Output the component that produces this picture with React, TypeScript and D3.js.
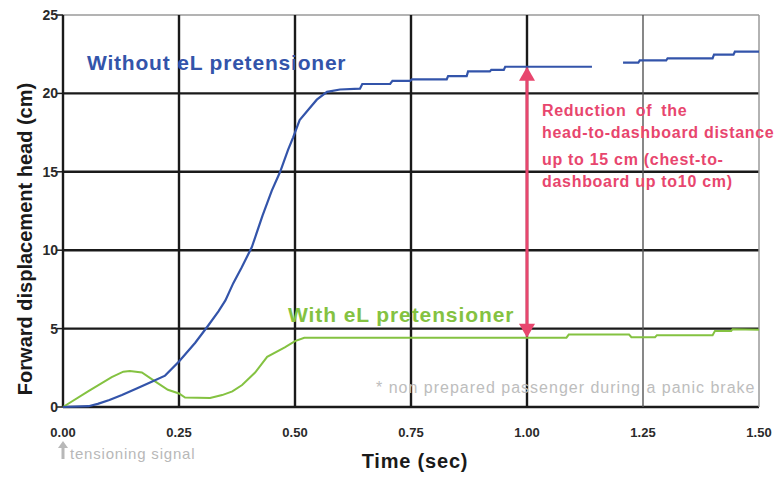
import * as d3 from "d3";

// Time axis (sec) and displacement (cm)
const xTicks = [0, 0.25, 0.5, 0.75, 1.0, 1.25, 1.5];
const yTicks = [0, 5, 10, 15, 20, 25];

// Without eL pretensioner (blue) — NaN marks the gap in the trace
const blueTime = [
  0, 0.055, 0.075, 0.1, 0.127, 0.16, 0.19, 0.22, 0.25, 0.285, 0.313, 0.335, 0.35, 0.367,
  0.385, 0.407, 0.43, 0.45, 0.468, 0.485, 0.496, 0.51, 0.53, 0.547, 0.569, 0.597, 0.64,
  0.645, 0.705, 0.71, 0.748, 0.752, 0.827, 0.83, 0.87, 0.873, 0.92, 0.923, 0.95, 0.953,
  1.14, 1.17, 1.207, 1.24, 1.243, 1.3, 1.303, 1.4, 1.403, 1.445, 1.448, 1.5,
];
const blueValue = [
  0, 0.05, 0.2, 0.45, 0.77, 1.2, 1.6, 2.0, 2.9, 4.1, 5.2, 6.1, 6.8, 7.9,
  8.9, 10.2, 12.2, 13.8, 15.0, 16.4, 17.2, 18.3, 19.0, 19.6, 20.1, 20.25, 20.3,
  20.6, 20.6, 20.8, 20.8, 20.9, 20.9, 21.1, 21.1, 21.4, 21.4, 21.5, 21.5, 21.7,
  21.7, NaN, 21.96, 21.96, 22.1, 22.1, 22.24, 22.24, 22.47, 22.47, 22.66, 22.66,
];

// With eL pretensioner (green)
const greenTime = [
  0, 0.054, 0.105, 0.13, 0.144, 0.17, 0.2, 0.226, 0.25, 0.263, 0.317, 0.343, 0.365, 0.386,
  0.414, 0.44, 0.478, 0.5, 0.52, 1.085, 1.09, 1.22, 1.225, 1.276, 1.28, 1.4, 1.405, 1.44,
  1.443, 1.5,
];
const greenValue = [
  0, 1.0, 1.9, 2.25, 2.3, 2.2, 1.6, 1.1, 0.86, 0.6, 0.57, 0.76, 1.0, 1.4,
  2.2, 3.2, 3.8, 4.2, 4.42, 4.42, 4.62, 4.62, 4.45, 4.45, 4.58, 4.58, 4.84, 4.84,
  4.96, 4.92,
];

const reductionAt = 1.0;
const reductionTop = 21.7;
const reductionBottom = 4.42;

const W = 781;
const H = 477;
const M = { top: 15, right: 22, bottom: 70, left: 63 };

const BLUE = "#3354aa";
const GREEN = "#84c241";
const RED = "#e8466e";
const FONT = "'Liberation Sans', Arial, sans-serif";

export default function App() {
  const x = d3.scaleLinear().domain([0, 1.5]).range([M.left, W - M.right]);
  const y = d3.scaleLinear().domain([0, 25]).range([H - M.bottom, M.top]);

  const line = d3
    .line<[number, number]>()
    .defined((d) => !Number.isNaN(d[1]))
    .x((d) => x(d[0]))
    .y((d) => y(d[1]));

  const blue = blueTime.map((t, i) => [t, blueValue[i]] as [number, number]);
  const green = greenTime.map((t, i) => [t, greenValue[i]] as [number, number]);

  const ax = x(reductionAt);
  const aTop = y(reductionTop);
  const aBot = y(reductionBottom);

  return (
    <svg
      width={W}
      height={H}
      style={{ position: "absolute", left: 0, top: 0, background: "#fff" }}
      fontFamily={FONT}
    >
      {/* grid */}
      {yTicks.map((v) => (
        <line
          key={"h" + v}
          x1={x(0)}
          x2={x(1.5)}
          y1={y(v)}
          y2={y(v)}
          stroke={v === 25 ? "#9a9a9a" : "#1a1a1a"}
          strokeWidth={v === 25 ? 1.5 : 2.4}
        />
      ))}
      {xTicks.map((t) => (
        <line
          key={"v" + t}
          x1={x(t)}
          x2={x(t)}
          y1={y(0)}
          y2={y(25)}
          stroke={t === 1.5 ? "#9a9a9a" : t === 1.25 ? "#555" : "#1a1a1a"}
          strokeWidth={t === 1.5 ? 1.5 : t === 1.25 ? 1.4 : 2.4}
        />
      ))}

      {/* y ticks */}
      {yTicks.map((v) => (
        <g key={"yt" + v}>
          <line x1={x(0) - 6} x2={x(0)} y1={y(v)} y2={y(v)} stroke="#1a1a1a" strokeWidth={1.5} />
          <text
            x={x(0) - 5}
            y={y(v) + 5}
            textAnchor="end"
            fontSize={14}
            fontWeight="bold"
            fill="#2a2a2a"
          >
            {v}
          </text>
        </g>
      ))}

      {/* x tick labels */}
      {xTicks.map((t) => (
        <text
          key={"xt" + t}
          x={x(t)}
          y={y(0) + 30}
          textAnchor="middle"
          fontSize={13}
          fontWeight="bold"
          fill="#2a2a2a"
        >
          {t.toFixed(2)}
        </text>
      ))}

      {/* series */}
      <path d={line(green) ?? ""} fill="none" stroke={GREEN} strokeWidth={2} />
      <path d={line(blue) ?? ""} fill="none" stroke={BLUE} strokeWidth={2.2} />

      {/* reduction arrow */}
      <line x1={ax} x2={ax} y1={aTop + 12} y2={aBot - 12} stroke={RED} strokeWidth={3} />
      <polygon points={`${ax},${aTop} ${ax - 8},${aTop + 14} ${ax + 8},${aTop + 14}`} fill={RED} />
      <polygon points={`${ax},${aBot} ${ax - 8},${aBot - 14} ${ax + 8},${aBot - 14}`} fill={RED} />

      <g fill={RED} fontSize={16} fontWeight="bold" letterSpacing={0.7}>
        <text x={542} y={116} wordSpacing={4}>Reduction of the</text>
        <text x={542} y={138}>head-to-dashboard distance</text>
        <text x={542} y={165}>up to 15 cm (chest-to-</text>
        <text x={542} y={187}>dashboard up to10 cm)</text>
      </g>

      {/* series labels */}
      <text x={87} y={70} fontSize={21} fontWeight="bold" fill={BLUE} letterSpacing={0.8}>
        Without eL pretensioner
      </text>
      <text x={288} y={322} fontSize={21} fontWeight="bold" fill={GREEN} letterSpacing={0.9}>
        With eL pretensioner
      </text>

      {/* footnote */}
      <text x={376} y={393} fontSize={16} fill="#bdbdbd" letterSpacing={1}>
        * non prepared passenger during a panic brake
      </text>

      {/* tensioning signal */}
      <g fill="#b8b8b8">
        <polygon points={`${x(0)},${y(0) + 34} ${x(0) - 5},${y(0) + 41} ${x(0) + 5},${y(0) + 41}`} />
        <rect x={x(0) - 1.5} y={y(0) + 40} width={3} height={12} />
        <text x={x(0) + 7} y={y(0) + 52} fontSize={15} letterSpacing={0.8}>
          tensioning signal
        </text>
      </g>

      {/* axis titles */}
      <text
        x={415}
        y={H - 9}
        textAnchor="middle"
        fontSize={20}
        fontWeight="bold"
        fill="#1a1a1a"
        letterSpacing={0.8}
      >
        Time (sec)
      </text>
      <text
        transform={`translate(32,${y(12.5) + 28}) rotate(-90)`}
        textAnchor="middle"
        fontSize={20}
        fontWeight="bold"
        fill="#1a1a1a"
      >
        Forward displacement head (cm)
      </text>
    </svg>
  );
}
